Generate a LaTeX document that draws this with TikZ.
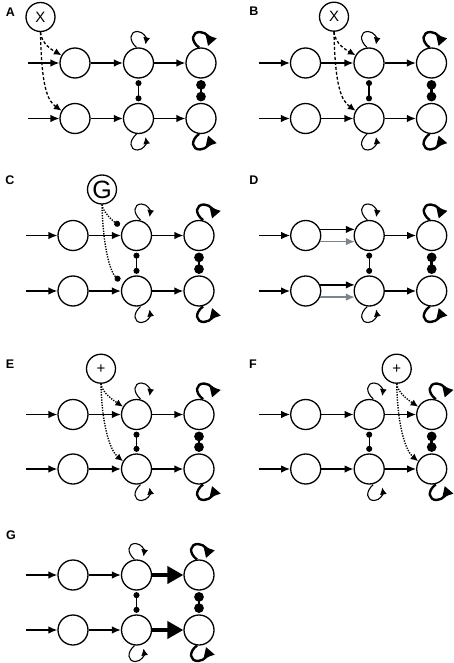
\documentclass[tikz,border=0pt]{standalone}
\usepackage{fontspec}
\setmainfont{Liberation Sans}
\usetikzlibrary{arrows.meta,calc}
\definecolor{grayarrow}{RGB}{125,133,140}
\tikzset{
  unit/.style={circle, draw, line width=1.3pt, minimum size=30pt, inner sep=0pt},
  ctrl/.style={circle, draw, line width=1.3pt, minimum size=29pt, inner sep=0pt, font=\fontsize{15}{15}\selectfont},
  lab/.style={font=\bfseries\fontsize{12.5}{12.5}\selectfont, inner sep=0pt},
  arr/.style={line width=1.3pt, -{Latex[length=9pt,width=7.5pt]}},
  grayarr/.style={line width=1.3pt, draw=grayarrow, -{Latex[length=9pt,width=7.5pt,fill=grayarrow]}},
  bigarr/.style={line width=4pt, -{Triangle[length=16pt,width=17pt]}},
  loopS/.style={line width=1.1pt, -{Latex[length=7pt,width=7pt]}},
  loopB/.style={line width=2.4pt, -{Triangle[length=10pt,width=11pt]}},
  inhS/.style={line width=1.3pt, {Circle[length=6pt]}-{Circle[length=6pt]}, shorten <=1.5pt, shorten >=1.5pt},
  inhB/.style={line width=2.8pt, {Circle[length=9.5pt]}-{Circle[length=9.5pt]}, shorten <=1.5pt, shorten >=1.5pt},
  dasharr/.style={line width=1.3pt, dash pattern=on 3pt off 2pt, -{Latex[length=7.5pt,width=7pt]}},
  dotarr/.style={line width=1.4pt, dash pattern=on 1.3pt off 1.3pt, -{Latex[length=7.5pt,width=7pt]}},
  dotinh/.style={line width=1.4pt, dash pattern=on 1.3pt off 1.3pt, -{Circle[length=6pt]}, shorten >=4pt},
}
% self loops: node, horizontal shift
\newcommand\lpTS[2]{\draw[loopS] ($(#1.center)+(#2-2,-15.6)$) .. controls +(-8,-7) and +(-8,0) .. ($(#1.center)+(#2-1,-31.5)$) .. controls +(6,0) and +(1,-6) .. ($(#1.center)+(#2+7,-18.5)$);}
\newcommand\lpBS[2]{\draw[loopS] ($(#1.center)+(#2-2,15.6)$) .. controls +(-8,7) and +(-8,0) .. ($(#1.center)+(#2-1,31.5)$) .. controls +(6,0) and +(1,6) .. ($(#1.center)+(#2+7,18.5)$);}
\newcommand\lpTB[2]{\draw[loopB] ($(#1.center)+(#2-2,-15.4)$) .. controls +(-9,-7) and +(-8,0) .. ($(#1.center)+(#2-1,-31)$) .. controls +(7,0) and +(2,-6) .. ($(#1.center)+(#2+7,-17)$);}
\newcommand\lpBB[2]{\draw[loopB] ($(#1.center)+(#2-2,15.4)$) .. controls +(-9,7) and +(-8,0) .. ($(#1.center)+(#2-1,31)$) .. controls +(7,0) and +(2,6) .. ($(#1.center)+(#2+7,17)$);}
% panel: prefix, x, y row1, y row2, loop shift
\newcommand\mkpanel[5]{%
  \node[unit] (#1a1) at (#2,#3) {};
  \node[unit] (#1a2) at (#2+63.5,#3) {};
  \node[unit] (#1a3) at (#2+126,#3) {};
  \node[unit] (#1b1) at (#2,#4) {};
  \node[unit] (#1b2) at (#2+63.5,#4) {};
  \node[unit] (#1b3) at (#2+126,#4) {};
  \coordinate (#1ia) at (#2-47,#3);
  \coordinate (#1ib) at (#2-47,#4);
  \draw[arr] (#1ia) -- (#1a1);
  \draw[arr] (#1ib) -- (#1b1);
  \draw[inhS] (#1a2) -- (#1b2);
  \draw[inhB] (#1a3) -- (#1b3);
  \lpTS{#1a2}{#5}\lpTB{#1a3}{#5}\lpBS{#1b2}{#5}\lpBB{#1b3}{#5}%
}
\newcommand\lnkA[1]{\draw[arr] (#1a1) -- (#1a2); \draw[arr] (#1b1) -- (#1b2);}
\newcommand\lnkB[1]{\draw[arr] (#1a2) -- (#1a3); \draw[arr] (#1b2) -- (#1b3);}
\begin{document}
\begin{tikzpicture}[x=1pt,y=-1pt]
\useasboundingbox[fill=white] (0,0) rectangle (454,663);

% ---------- A ----------
\node[lab] (labA) at (10.5,12) {A};
\mkpanel{A}{75}{63}{118.5}{0}
\lnkA{A}\lnkB{A}
\node[ctrl] (Actl) at (40.5,17) {X};
\draw[dasharr] (Actl.south) .. controls +(1,12) and +(-9,-5) .. (Aa1.150);
\draw[dasharr] (Actl.south) .. controls +(1,55) and +(-14,-10) .. (Ab1.150);

% ---------- B ----------
\node[lab] (labB) at (254,11.5) {B};
\mkpanel{B}{305.5}{63}{118.5}{0}
\lnkA{B}\lnkB{B}
\node[ctrl] (Bctl) at (334,16.7) {X};
\draw[dasharr] (Bctl.south) .. controls +(1,12) and +(-9,-5) .. (Ba2.150);
\draw[dasharr] (Bctl.south) .. controls +(1,55) and +(-14,-10) .. (Bb2.150);

% ---------- C ----------
\node[lab] (labC) at (10,180) {C};
\mkpanel{C}{73}{235.5}{291}{6}
\lnkA{C}\lnkB{C}
\node[ctrl, font=\fontsize{25}{25}\selectfont] (Cctl) at (102,189.5) {G};
\draw[dotinh] (Cctl.south) .. controls +(1,8) and +(-9,-6) .. (Ca2.150);
\draw[dotinh] (Cctl.south) .. controls +(1,45) and +(-12,-10) .. (Cb2.150);

% ---------- D ----------
\node[lab] (labD) at (254,180) {D};
\mkpanel{D}{305.7}{235.5}{291}{0}
\lnkB{D}
\draw[arr] (Da1.23) -- (Da2.157);
\draw[grayarr] (Da1.-23) -- (Da2.-157);
\draw[arr] (Db1.23) -- (Db2.157);
\draw[grayarr] (Db1.-23) -- (Db2.-157);

% ---------- E ----------
\node[lab] (labE) at (10,364) {E};
\mkpanel{E}{73}{414.5}{469}{6}
\lnkA{E}\lnkB{E}
\node[ctrl] (Ectl) at (101,368.7) {+};
\draw[dotarr] (Ectl.south) .. controls +(1,9) and +(-9,-6) .. (Ea2.150);
\draw[dotarr] (Ectl.south) .. controls +(1,45) and +(-12,-10) .. (Eb2.150);

% ---------- F ----------
\node[lab] (labF) at (253,364) {F};
\mkpanel{F}{305.7}{414.5}{469}{6}
\lnkA{F}\lnkB{F}
\node[ctrl] (Fctl) at (396.7,368.7) {+};
\draw[dotarr] (Fctl.south) .. controls +(1,9) and +(-9,-6) .. (Fa3.150);
\draw[dotarr] (Fctl.south) .. controls +(1,45) and +(-12,-10) .. (Fb3.150);

% ---------- G ----------
\node[lab] (labG) at (11,535) {G};
\mkpanel{G}{73}{575}{630}{0}
\lnkA{G}
\draw[bigarr] (Ga2) -- (Ga3);
\draw[bigarr] (Gb2) -- (Gb3);
\end{tikzpicture}
\end{document}
